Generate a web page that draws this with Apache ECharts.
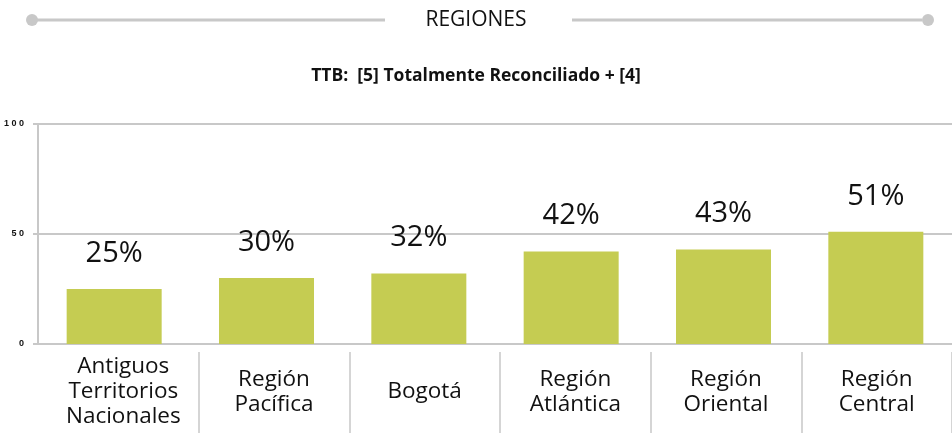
<!DOCTYPE html>
<html>
<head>
<meta charset="utf-8">
<script src="https://cdn.jsdelivr.net/npm/echarts@6/dist/echarts.min.js"></script>
<style>
  html, body { margin: 0; padding: 0; background: #fff; }
  #chart { width: 952px; height: 433px; }
</style>
</head>
<body>
<div id="chart"></div>
<script>
const categories = ['Antiguos\nTerritorios\nNacionales', 'Región\nPacífica', 'Bogotá', 'Región\nAtlántica', 'Región\nOriental', 'Región\nCentral']
const values = [25, 30, 32, 42, 43, 51]
const yTicks = [0, 50, 100]

const FONT = "'Open Sans', sans-serif"
const GREY = '#c8c8c8'

const chart = echarts.init(document.getElementById('chart'), null, { renderer: 'canvas' })

const option = {
  animation: false,
  title: [
    {
      text: 'REGIONES',
      left: 'center',
      top: 5,
      textStyle: { fontFamily: FONT, fontSize: 21, fontWeight: 'normal', color: '#111' },
    },
    {
      text: 'TTB:  [5] Totalmente Reconciliado + [4]',
      left: 'center',
      top: 62,
      textStyle: { fontFamily: FONT, fontSize: 17.5, fontWeight: 'bold', color: '#111' },
    },
  ],
  // decorative rule around the heading
  graphic: [
    { type: 'line', shape: { x1: 32, y1: 20, x2: 385, y2: 20 }, style: { stroke: GREY, lineWidth: 3 } },
    { type: 'line', shape: { x1: 572, y1: 20, x2: 922, y2: 20 }, style: { stroke: GREY, lineWidth: 3 } },
    { type: 'circle', shape: { cx: 32, cy: 20, r: 6 }, style: { fill: GREY } },
    { type: 'circle', shape: { cx: 928, cy: 20, r: 6 }, style: { fill: GREY } },
  ],
  grid: [
    { left: 38, right: -2, top: 124, bottom: 89 },
    // label table under the plot, slightly shifted like the original
    { left: 48, right: -1, top: 124, bottom: 81 },
  ],
  xAxis: [
    {
      type: 'category',
      gridIndex: 0,
      data: categories,
      axisLine: { lineStyle: { color: GREY, width: 2 } },
      axisTick: { show: false },
      axisLabel: { show: false },
    },
    {
      type: 'category',
      gridIndex: 1,
      data: categories,
      position: 'bottom',
      axisLine: { show: false },
      axisTick: {
        show: true,
        length: 82,
        interval: (i) => i > 0,
        lineStyle: { color: GREY, width: 1.5 },
      },
      axisLabel: {
        color: '#111',
        fontFamily: FONT,
        fontSize: 22.5,
        lineHeight: 25,
        margin: 40,
        verticalAlign: 'middle',
        interval: 0,
      },
    },
  ],
  yAxis: [
    {
      type: 'value',
      gridIndex: 0,
      min: 0,
      max: 100,
      interval: 50,
      axisLine: { show: true, lineStyle: { color: GREY, width: 2 } },
      axisTick: { show: true, length: 5, lineStyle: { color: GREY, width: 2 } },
      splitLine: { lineStyle: { color: GREY, width: 2 } },
      axisLabel: {
        color: '#111',
        fontFamily: 'Liberation Sans, sans-serif',
        fontSize: 9,
        fontWeight: 'bold',
        margin: 14,
        formatter: v => yTicks.includes(v) ? String(v).split('').join(' ') : '',
      },
    },
    {
      type: 'value',
      gridIndex: 1,
      show: false,
    },
  ],
  series: [
    {
      type: 'bar',
      xAxisIndex: 0,
      yAxisIndex: 0,
      data: values,
      barWidth: 95,
      itemStyle: { color: '#c5cc52' },
      label: {
        show: true,
        position: 'top',
        distance: 21,
        formatter: p => p.value + '%',
        fontFamily: FONT,
        fontSize: 29,
        color: '#111',
      },
    },
  ],
}

chart.setOption(option)
</script>
</body>
</html>
